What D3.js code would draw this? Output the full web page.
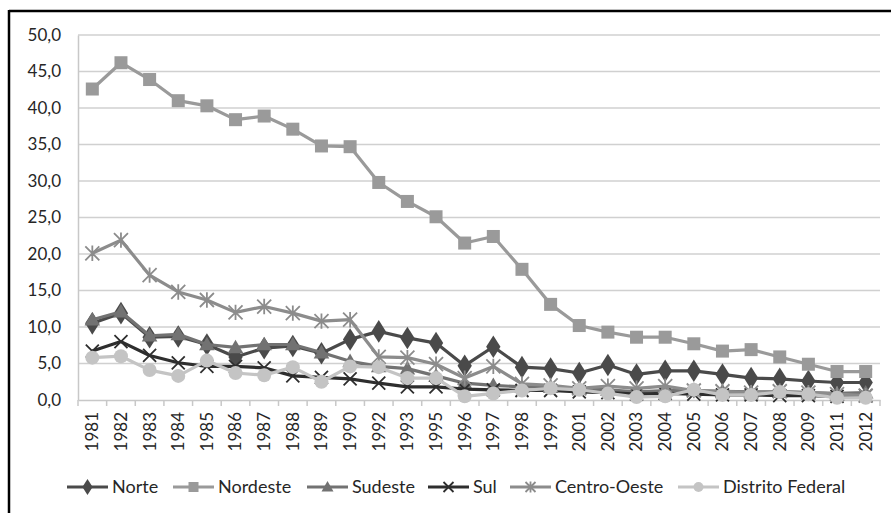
<!DOCTYPE html>
<html>
<head>
<meta charset="utf-8">
<script src="https://cdn.jsdelivr.net/npm/d3@7"></script>
<style>
  html, body { margin: 0; padding: 0; background: #fff; }
  svg { display: block; }
  text { font-family: Lato, "Open Sans", sans-serif; fill: #262626; }
</style>
</head>
<body>
<svg id="chart" width="891" height="513"></svg>
<script>
const years = ["1981","1982","1983","1984","1985","1986","1987","1988","1989","1990","1992","1993","1995","1996","1997","1998","1999","2001","2002","2003","2004","2005","2006","2007","2008","2009","2011","2012"];

const norte        = [10.5, 11.9, 8.6, 8.7, 7.6, 5.9, 7.1, 7.4, 6.4, 8.3, 9.4, 8.5, 7.8, 4.7, 7.3, 4.5, 4.3, 3.7, 4.8, 3.5, 4.0, 4.0, 3.5, 3.0, 2.9, 2.6, 2.4, 2.4];
const nordeste     = [42.6, 46.2, 43.9, 41.0, 40.3, 38.4, 38.9, 37.1, 34.8, 34.7, 29.8, 27.2, 25.1, 21.5, 22.4, 17.9, 13.1, 10.2, 9.3, 8.6, 8.6, 7.7, 6.7, 6.9, 5.9, 4.9, 3.9, 3.9];
const sudeste      = [11.0, 12.1, 8.8, 9.0, 7.6, 7.2, 7.6, 7.6, 6.5, 5.3, 4.6, 4.3, 3.3, 2.3, 2.0, 1.8, 1.8, 1.6, 1.4, 1.1, 1.3, 1.3, 1.2, 1.1, 1.1, 1.0, 0.9, 1.0];
const sul          = [6.7, 8.0, 6.1, 5.1, 4.6, 4.6, 4.4, 3.3, 3.1, 2.9, 2.3, 1.8, 1.8, 1.5, 1.4, 1.3, 1.3, 1.1, 1.0, 0.8, 0.9, 0.8, 0.7, 0.7, 0.6, 0.6, 0.5, 0.6];
const centroOeste  = [20.1, 21.9, 17.1, 14.8, 13.7, 12.0, 12.8, 11.9, 10.8, 11.0, 5.9, 5.8, 4.9, 3.0, 4.6, 2.2, 2.0, 1.6, 1.9, 1.6, 1.9, 1.3, 1.2, 1.0, 1.2, 1.0, 0.8, 0.6];
const distrito     = [5.8, 6.0, 4.1, 3.3, 5.4, 3.7, 3.4, 4.5, 2.5, 4.6, 4.5, 3.0, 3.0, 0.5, 0.9, 1.3, 1.6, 1.4, 0.9, 0.4, 0.5, 1.4, 0.7, 0.7, 1.1, 0.8, 0.3, 0.3];

const seriesNames  = ["Norte", "Nordeste", "Sudeste", "Sul", "Centro-Oeste", "Distrito Federal"];
const seriesValues = [norte, nordeste, sudeste, sul, centroOeste, distrito];
const seriesColors = ["#4a4a4a", "#9a9a9a", "#727272", "#2e2e2e", "#8c8c8c", "#c4c4c4"];
const seriesMarkers = ["diamond", "square", "triangle", "x", "star", "circle"];
const yTicks = [0, 5, 10, 15, 20, 25, 30, 35, 40, 45, 50];

const svg = d3.select("#chart");

// outer frame (top and left edges visible)
svg.append("line").attr("x1", 9).attr("x2", 891).attr("y1", 11).attr("y2", 11)
  .attr("stroke", "#000").attr("stroke-width", 2.5);
svg.append("line").attr("x1", 9).attr("x2", 9).attr("y1", 10).attr("y2", 513)
  .attr("stroke", "#000").attr("stroke-width", 2.5);

const mLeft = 78, mRight = 880, mTop = 35, mBottom = 400;

const x = d3.scaleBand().domain(years).range([mLeft, mRight]).padding(0);
const y = d3.scaleLinear().domain([0, 50]).range([mBottom, mTop]);
const fmt = v => d3.format(".1f")(v).replace(".", ",");

// gridlines
svg.append("g")
  .selectAll("line").data(yTicks.filter(d => d > 0)).join("line")
  .attr("x1", mLeft).attr("x2", mRight)
  .attr("y1", d => y(d)).attr("y2", d => y(d))
  .attr("stroke", "#d0d0d0").attr("stroke-width", 1.5);

// y axis
const yAxis = svg.append("g").attr("transform", `translate(${mLeft},0)`)
  .call(d3.axisLeft(y).tickValues(yTicks).tickFormat(fmt).tickSize(0).tickPadding(17));
yAxis.select(".domain").attr("stroke", "#c8c8c8").attr("stroke-width", 1.5);
yAxis.selectAll("text").style("font-size", "17px").style("font-family", "Lato, sans-serif").attr("fill", "#262626");

// x axis
const xAxis = svg.append("g").attr("transform", `translate(0,${mBottom})`)
  .call(d3.axisBottom(x).tickSize(0));
xAxis.select(".domain").attr("stroke", "#c8c8c8").attr("stroke-width", 1.5);
xAxis.selectAll(".tick line").remove();
xAxis.selectAll("text")
  .style("font-size", "17px").style("font-family", "Lato, sans-serif").attr("fill", "#262626")
  .attr("transform", "rotate(-90)")
  .attr("text-anchor", "end")
  .attr("x", -12).attr("y", 0).attr("dy", "0.35em");
// category boundary ticks
const boundaries = years.map(d => x(d)).concat([mRight]);
svg.append("g").selectAll("line").data(boundaries).join("line")
  .attr("x1", d => d).attr("x2", d => d)
  .attr("y1", mBottom).attr("y2", mBottom + 6)
  .attr("stroke", "#c8c8c8").attr("stroke-width", 1.5);

function drawMarker(g, type, color, size) {
  const s = size;
  switch (type) {
    case "diamond":
      g.append("path").attr("d", d3.symbol(d3.symbolDiamond, s * s * 0.75)())
        .attr("fill", color).attr("transform", "scale(1.1,1)");
      break;
    case "square":
      g.append("rect").attr("x", -s / 2).attr("y", -s / 2).attr("width", s).attr("height", s).attr("fill", color);
      break;
    case "triangle":
      g.append("path").attr("d", `M0,${-s * 0.6}L${s * 0.6},${s * 0.45}L${-s * 0.6},${s * 0.45}Z`).attr("fill", color);
      break;
    case "circle":
      g.append("circle").attr("r", s / 2).attr("fill", color);
      break;
    case "x": {
      const h = s / 2;
      g.append("path").attr("d", `M${-h},${-h}L${h},${h}M${-h},${h}L${h},${-h}`)
        .attr("stroke", color).attr("stroke-width", 1.8).attr("fill", "none");
      break;
    }
    case "star": {
      const h = s / 2;
      g.append("path").attr("d", `M${-h},${-h}L${h},${h}M${-h},${h}L${h},${-h}M0,${-h * 1.1}L0,${h * 1.1}`)
        .attr("stroke", color).attr("stroke-width", 1.8).attr("fill", "none");
      break;
    }
  }
}

const markerSize = { diamond: 14, square: 13, triangle: 13, circle: 14, x: 13, star: 14 };

const line = d3.line().x((d, i) => x(years[i]) + x.bandwidth() / 2).y(d => y(d));

seriesNames.forEach((name, si) => {
  const vals = seriesValues[si];
  const g = svg.append("g");
  g.append("path").datum(vals).attr("d", line)
    .attr("fill", "none").attr("stroke", seriesColors[si]).attr("stroke-width", 3.2)
    .attr("stroke-linejoin", "round");
  vals.forEach((v, i) => {
    const mg = g.append("g").attr("transform", `translate(${x(years[i]) + x.bandwidth() / 2},${y(v)})`);
    drawMarker(mg, seriesMarkers[si], seriesColors[si], markerSize[seriesMarkers[si]]);
  });
});

// legend
const legendStarts = [67, 173, 307, 428, 510, 678];
const legend = svg.append("g");
seriesNames.forEach((name, si) => {
  const lx = legendStarts[si], ly = 487;
  legend.append("line").attr("x1", lx).attr("x2", lx + 41).attr("y1", ly).attr("y2", ly)
    .attr("stroke", seriesColors[si]).attr("stroke-width", 3.2);
  const mg = legend.append("g").attr("transform", `translate(${lx + 20.5},${ly})`);
  drawMarker(mg, seriesMarkers[si], seriesColors[si], 10);
  legend.append("text").attr("x", lx + 45).attr("y", ly).attr("dy", "0.35em")
    .style("font-size", "18px").text(name);
});
</script>
</body>
</html>
